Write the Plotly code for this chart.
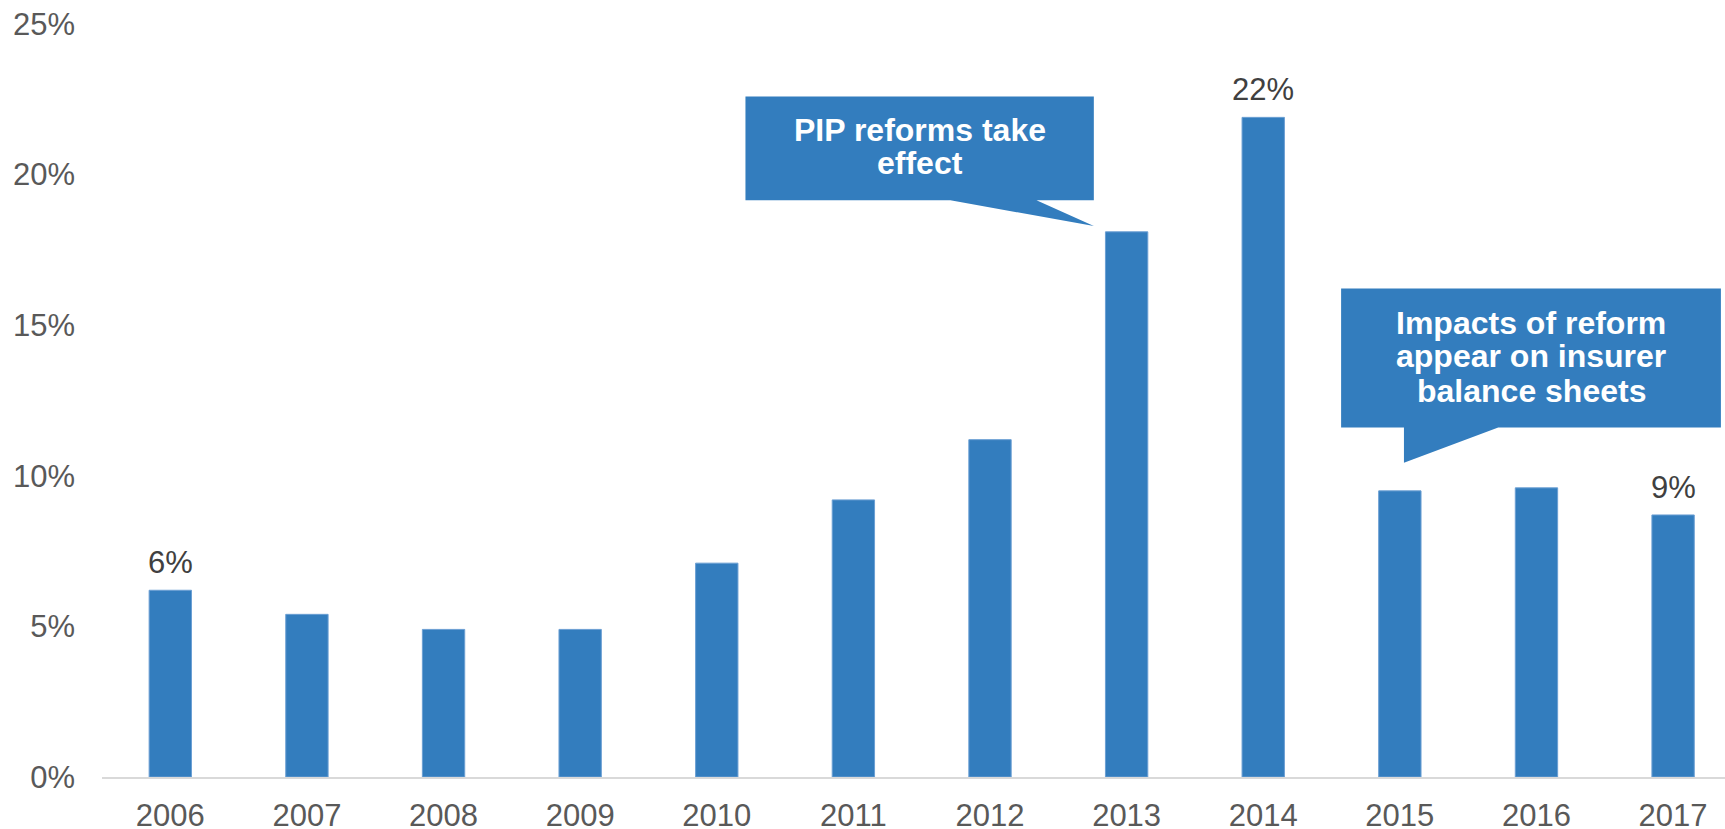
import plotly.graph_objects as go

years = [str(y) for y in range(2006, 2018)]
values = [6.2, 5.4, 4.9, 4.9, 7.1, 9.2, 11.2, 18.1, 21.9, 9.5, 9.6, 8.7]
bar_labels = ["6%", "", "", "", "", "", "", "", "22%", "", "", "9%"]
y_ticks = [0, 5, 10, 15, 20, 25]
y_ticktext = [f"{v}%" for v in y_ticks]

callout1_lines = ["PIP reforms take", "effect"]
callout2_lines = ["Impacts of reform", "appear on insurer", "balance sheets"]

BLUE = "#337dbe"
FONT = "Liberation Sans, Arial, sans-serif"

xs = list(range(len(years)))

fig = go.Figure()
fig.add_trace(
    go.Bar(
        x=xs,
        y=values,
        marker=dict(color=BLUE, line=dict(width=1, color="#6b9fd3")),
        width=0.31,
        hoverinfo="skip",
    )
)


def callout(box, base, tip):
    # box = (x0, x1, y0, y1) in data units, base = (xa, xb) on bottom edge
    x0, x1, y0, y1 = box
    xa, xb = base
    tx, ty = tip
    return (
        f"M {x0},{y1} L {x1},{y1} L {x1},{y0} L {xb},{y0} "
        f"L {tx},{ty} L {xa},{y0} L {x0},{y0} Z"
    )


shapes = [
    dict(
        type="path",
        xref="x",
        yref="y",
        path=callout((4.21, 6.76, 19.15, 22.59), (5.71, 6.34), (6.76, 18.29)),
        fillcolor=BLUE,
        line=dict(width=0),
        layer="above",
    ),
    dict(
        type="path",
        xref="x",
        yref="y",
        path=callout((8.57, 11.35, 11.6, 16.22), (9.03, 9.72), (9.03, 10.43)),
        fillcolor=BLUE,
        line=dict(width=0),
        layer="above",
    ),
]

annotations = []
# value labels above selected bars
for x, v, lab in zip(xs, values, bar_labels):
    if lab:
        annotations.append(
            dict(x=x, y=v, xref="x", yref="y", text=lab, showarrow=False, yanchor="bottom",
                 yshift=8, font=dict(size=31, color="#404040", family=FONT))
        )
for line, yv in zip(callout1_lines, [21.48, 20.37]):
    annotations.append(
        dict(x=5.485, y=yv, xref="x", yref="y", text=f"<b>{line}</b>", showarrow=False,
             font=dict(size=32, color="white", family=FONT), xanchor="center", yanchor="middle")
    )
for line, yv in zip(callout2_lines, [15.08, 13.97, 12.83]):
    annotations.append(
        dict(x=9.96, y=yv, xref="x", yref="y", text=f"<b>{line}</b>", showarrow=False,
             font=dict(size=32, color="white", family=FONT), xanchor="center", yanchor="middle")
    )

fig.update_layout(
    width=1725,
    height=829,
    margin=dict(l=102, r=0, t=24, b=52),
    plot_bgcolor="white",
    paper_bgcolor="white",
    showlegend=False,
    shapes=shapes,
    annotations=annotations,
    font=dict(family=FONT, size=31, color="#595959"),
)
fig.update_xaxes(
    tickmode="array",
    tickvals=xs,
    ticktext=years,
    range=[-0.5, 11.38],
    showline=True,
    linecolor="#d9d9d9",
    linewidth=2,
    showgrid=False,
    zeroline=False,
    ticks="",
    ticklabelstandoff=10,
    automargin=False,
    tickfont=dict(size=31, color="#595959"),
)
fig.update_yaxes(
    range=[0, 25],
    tickmode="array",
    tickvals=y_ticks,
    ticktext=y_ticktext,
    showgrid=False,
    zeroline=False,
    showline=False,
    ticks="",
    ticklabelstandoff=26,
    automargin=False,
    tickfont=dict(size=31, color="#595959"),
)

fig.write_html(
    "out.html",
    config={"displayModeBar": False},
    post_script="document.body.style.margin='0px';",
)
